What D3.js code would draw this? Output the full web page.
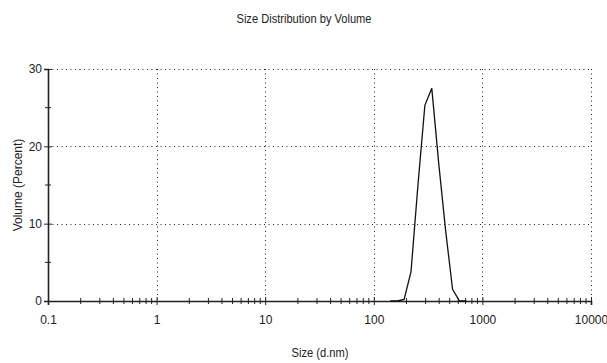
<!DOCTYPE html>
<html><head><meta charset="utf-8">
<script src="https://cdn.jsdelivr.net/npm/d3@7"></script>
<style>body{margin:0;background:#fff}svg{display:block}</style>
</head><body>
<script>
const sizes = [141.8, 164.2, 190.1, 220.2, 255.0, 295.3, 342.0, 396.1, 458.7, 531.2, 615.1, 712.4];
const volumes = [0, 0, 0.2, 3.8, 15.0, 25.3, 27.5, 17.8, 9.1, 1.5, 0, 0];
const xTicks = [0.1, 1, 10, 100, 1000, 10000];
const xTickLabels = ["0.1", "1", "10", "100", "1000", "10000"];
const yTicks = [0, 10, 20, 30];
const yMinorTicks = [5, 15, 25];
const title = "Size Distribution by Volume";
const xLabel = "Size (d.nm)";
const yLabel = "Volume (Percent)";

const W = 607, H = 363;
const m = {left: 48, right: 16, top: 69, bottom: 62};
const font = "'Liberation Sans Narrow','Arial Narrow',Arial,sans-serif";
const svg = d3.select("body").append("svg").attr("width", W).attr("height", H);

const x = d3.scaleLog().domain([0.1, 10000]).range([m.left, W - m.right]);
const y = d3.scaleLinear().domain([0, 30]).range([H - m.bottom, m.top]);

// gridlines
const grid = svg.append("g").attr("stroke", "#222").attr("stroke-width", 1).attr("stroke-dasharray", "1,3.5");
grid.selectAll("line.v").data(xTicks.slice(1)).join("line")
  .attr("x1", d => Math.round(x(d)) + 0.5).attr("x2", d => Math.round(x(d)) + 0.5)
  .attr("y1", y(30)).attr("y2", y(0));
grid.selectAll("line.h").data(yTicks.slice(1)).join("line")
  .attr("x1", x(0.1)).attr("x2", x(10000))
  .attr("y1", d => Math.round(y(d)) + 0.5).attr("y2", d => Math.round(y(d)) + 0.5);

// x axis with minor ticks
const minor = [];
for (let e = -1; e < 4; e++) for (let k = 2; k <= 9; k++) minor.push(k * Math.pow(10, e));
const xAxis = d3.axisBottom(x).tickValues(xTicks).tickFormat((d, i) => xTickLabels[i]).tickSize(4).tickPadding(10);
const gx = svg.append("g").attr("transform", `translate(0,${y(0)})`).call(xAxis);
gx.select(".domain").attr("stroke", "#222").attr("stroke-width", 1.6);
gx.selectAll(".tick line").attr("y1", -4).attr("stroke", "#222");
gx.selectAll("text").attr("font-family", font).attr("font-size", 12).attr("fill", "#222");
gx.selectAll("line.minor").data(minor).join("line").attr("class", "minor")
  .attr("x1", d => x(d)).attr("x2", d => x(d)).attr("y1", -3).attr("y2", 3).attr("stroke", "#222");

// y axis
const yAxis = d3.axisLeft(y).tickValues(yTicks).tickSize(4).tickPadding(2);
const gy = svg.append("g").attr("transform", `translate(${x(0.1)},0)`).call(yAxis);
gy.select(".domain").attr("stroke", "#222").attr("stroke-width", 1.6);
gy.selectAll(".tick line").attr("x2", 4).attr("x1", -4).attr("stroke", "#222");
gy.selectAll("text").attr("font-family", font).attr("font-size", 12).attr("fill", "#222");
gy.selectAll("line.minor").data(yMinorTicks).join("line").attr("class", "minor")
  .attr("x1", -3).attr("x2", 3).attr("y1", d => y(d)).attr("y2", d => y(d)).attr("stroke", "#222");

// data line
const line = d3.line().x(d => x(d[0])).y(d => y(d[1]));
svg.append("path").datum(d3.zip(sizes, volumes)).attr("d", line)
  .attr("fill", "none").attr("stroke", "#111").attr("stroke-width", 1.3);

// texts
svg.append("text").attr("x", 304).attr("y", 23).attr("text-anchor", "middle")
  .attr("textLength", 135).attr("lengthAdjust", "spacingAndGlyphs")
  .attr("font-family", font).attr("font-size", 12.5).attr("fill", "#222").text(title);
svg.append("text").attr("x", 320).attr("y", 357).attr("text-anchor", "middle")
  .attr("textLength", 57).attr("lengthAdjust", "spacingAndGlyphs")
  .attr("font-family", font).attr("font-size", 12.5).attr("fill", "#222").text(xLabel);
svg.append("text").attr("transform", `translate(22,${(y(0) + y(30)) / 2}) rotate(-90)`).attr("text-anchor", "middle")
  .attr("font-family", "'Liberation Sans',Arial,sans-serif").attr("font-size", 12).attr("fill", "#222").text(yLabel);
</script>
</body></html>
